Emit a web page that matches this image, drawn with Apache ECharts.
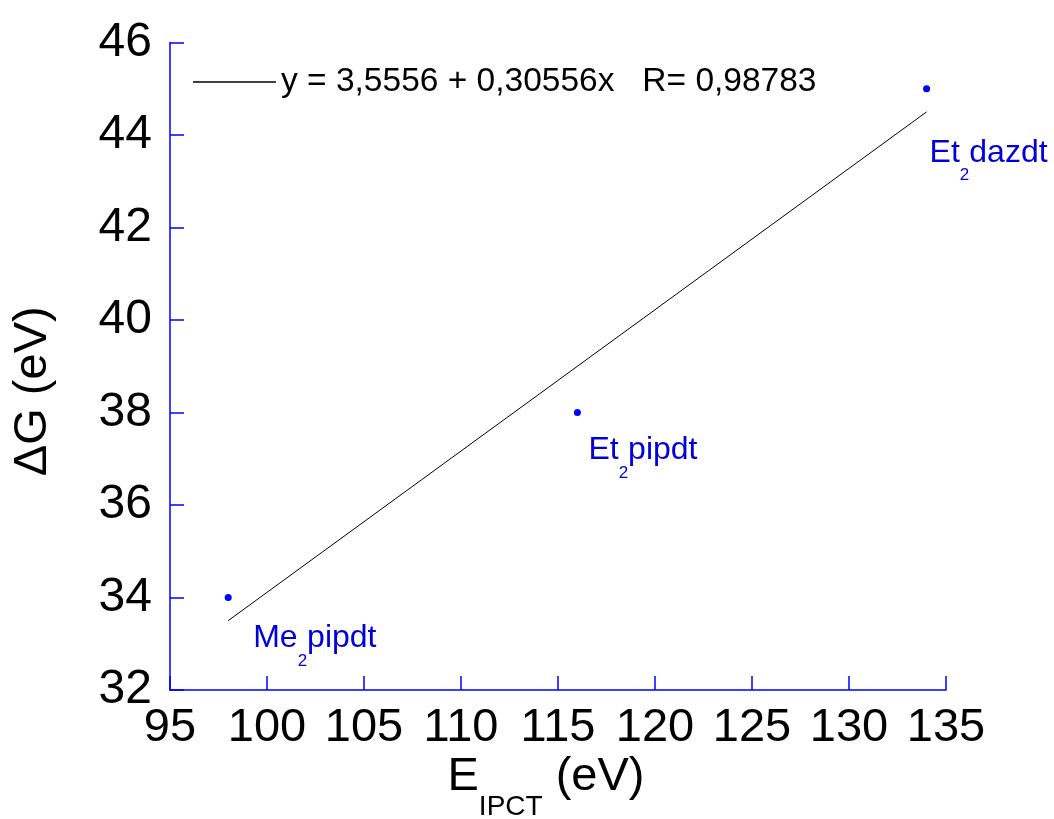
<!DOCTYPE html>
<html>
<head>
<meta charset="utf-8">
<script src="https://cdn.jsdelivr.net/npm/echarts@6/dist/echarts.min.js"></script>
<style>
html,body{margin:0;padding:0;background:#fff;}
#c{width:1054px;height:819px;}
</style>
</head>
<body>
<div id="c"></div>
<script>
// ---- data ----
var xValues = [98, 116, 134];
var yValues = [34, 38, 45];
var pointNames = [['Me', '2', 'pipdt'], ['Et', '2', 'pipdt'], ['Et', '2', 'dazdt']];
var fitX = [98, 134];
var fitY = [33.5, 44.5];
var fitName = 'y = 3,5556 + 0,30556x   R= 0,98783';
var xTicks = [95, 100, 105, 110, 115, 120, 125, 130, 135];
var yTicks = [32, 34, 36, 38, 40, 42, 44, 46];

// ---- layout (label offsets in px) ----
var labelOffsets = [[25, 41], [11, 38], [3, 64]];

var FONT = '"Liberation Sans", Arial, sans-serif';
var BLUE = '#0000ff';
var LBLUE = '#0000dd';

var scatterData = xValues.map(function (x, i) {
  var p = pointNames[i];
  return {
    value: [x, yValues[i]],
    label: {
      show: true,
      position: 'inside',
      align: 'left',
      verticalAlign: 'middle',
      offset: labelOffsets[i],
      formatter: '{m|' + p[0] + '}{s|' + p[1] + '}{m|' + p[2] + '}'
    }
  };
});

var fitData = fitX.map(function (x, i) { return [x, fitY[i]]; });

var chart = echarts.init(document.getElementById('c'), null, { renderer: 'canvas' });
chart.setOption({
  animation: false,
  backgroundColor: '#ffffff',
  grid: { left: 170, right: 108, top: 42.5, bottom: 129, containLabel: false, outerBoundsMode: 'none' },
  legend: {
    show: true,
    data: [fitName],
    left: 193,
    top: 65,
    padding: 0,
    icon: 'rect',
    itemWidth: 83,
    itemHeight: 1.5,
    itemStyle: { color: '#000', borderWidth: 0 },
    textStyle: { fontFamily: FONT, fontSize: 33.5, color: '#000', lineHeight: 33 }
  },
  xAxis: {
    type: 'value',
    min: xTicks[0],
    max: xTicks[xTicks.length - 1],
    interval: 5,
    name: '{a|E}{s|IPCT}{a| (eV)}',
    nameLocation: 'middle',
    nameGap: 62,
    nameMoveOverlap: false,
    nameTextStyle: {
      padding: [0, 24, 0, 0],
      rich: {
        a: { fontFamily: FONT, fontSize: 47, color: '#000', lineHeight: 50 },
        s: { fontFamily: FONT, fontSize: 28, color: '#000', lineHeight: 28, padding: [60, 0, 0, 0] }
      }
    },
    axisLine: { show: true, onZero: false, lineStyle: { color: BLUE, width: 1.5 } },
    axisTick: { show: true, inside: true, length: 14, lineStyle: { color: BLUE, width: 1.5 } },
    axisLabel: { fontFamily: FONT, fontSize: 47, color: '#000', margin: 15 },
    splitLine: { show: false }
  },
  yAxis: {
    type: 'value',
    min: yTicks[0],
    max: yTicks[yTicks.length - 1],
    interval: 2,
    name: 'ΔG (eV)',
    nameLocation: 'middle',
    nameRotate: 90,
    nameGap: 113,
    nameMoveOverlap: false,
    nameTextStyle: { fontFamily: FONT, fontSize: 47, color: '#000', padding: [0, 50, 0, 0] },
    axisLine: { show: true, onZero: false, lineStyle: { color: BLUE, width: 1.5 } },
    axisTick: { show: true, inside: true, length: 14, lineStyle: { color: BLUE, width: 1.5 } },
    axisLabel: { fontFamily: FONT, fontSize: 48, color: '#000', margin: 18 },
    splitLine: { show: false }
  },
  series: [
    {
      name: fitName,
      type: 'line',
      data: fitData,
      symbol: 'none',
      showSymbol: false,
      lineStyle: { color: '#000', width: 1 },
      itemStyle: { color: '#000' },
      z: 2
    },
    {
      name: 'points',
      type: 'scatter',
      data: scatterData,
      symbol: 'circle',
      symbolSize: 7,
      itemStyle: { color: BLUE, opacity: 1 },
      label: {
        opacity: 1,
        rich: {
          m: { fontFamily: FONT, fontSize: 32, color: LBLUE, lineHeight: 34 },
          s: { fontFamily: FONT, fontSize: 17, color: LBLUE, lineHeight: 17, padding: [46, 0, 0, 0] }
        }
      },
      z: 3
    }
  ]
});
</script>
</body>
</html>
